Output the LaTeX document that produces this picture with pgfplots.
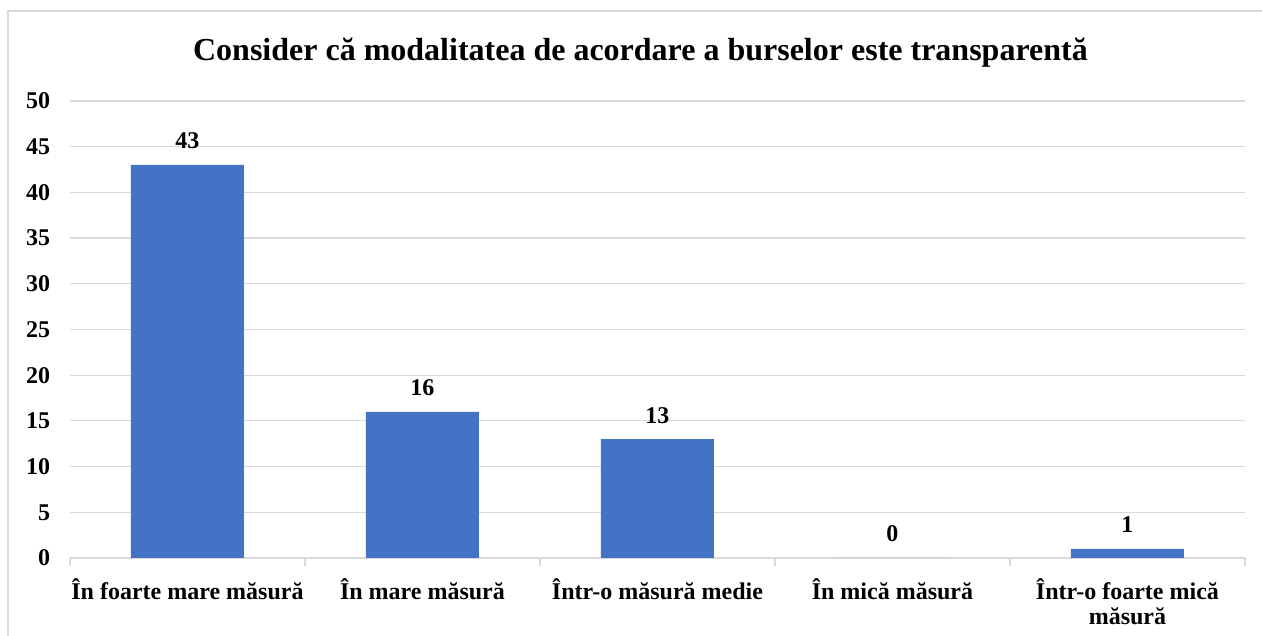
\documentclass[border=0pt]{standalone}
\usepackage{pgfplots}
\pgfplotsset{compat=1.18}
\usepackage{fontspec}
\setmainfont{Liberation Serif}
\definecolor{barblue}{HTML}{4472C4}
\definecolor{gridgray}{HTML}{D9D9D9}
\begin{document}
\begin{tikzpicture}
\path[use as bounding box] (-70pt,-78pt) rectangle (1192pt,558pt);
\draw[gridgray, line width=1.2pt] (-62pt,-90pt) rectangle (1200pt,547pt);
\begin{axis}[
  at={(0,0)}, anchor=south west,
  scale only axis, width=1175pt, height=457pt,
  xmin=-0.5, xmax=4.5, ymin=0, ymax=50,
  ytick={0,5,...,50},
  xtick={0,1,2,3,4},
  xticklabels={În foarte mare măsură, În mare măsură, Într-o măsură medie, În mică măsură, {\begin{tabular}[t]{@{}c@{}}Într-o foarte mică\\măsură\end{tabular}}},
  minor xtick={-0.5,0.5,1.5,2.5,3.5,4.5},
  major x tick style={draw=none},
  minor x tick style={draw=gridgray, line width=1.2pt},
  minor tick length=8pt,
  tick align=outside,
  y tick style={draw=none},
  ymajorgrids, grid style={gridgray, line width=1.2pt},
  axis x line*=bottom,
  axis y line*=left,
  y axis line style={draw=none},
  x axis line style={gridgray, line width=1.2pt, -},
  /pgf/number format/assume math mode=true,
  tick label style={font=\fontsize{24}{25}\selectfont\bfseries},
  xticklabel style={anchor=base, yshift=-37pt},
  yticklabel style={xshift=-12pt},
  ybar, bar width=113pt,
  nodes near coords,
  nodes near coords style={font=\fontsize{24}{25}\selectfont\bfseries, anchor=base, yshift=16pt},
  title={Consider că modalitatea de acordare a burselor este transparentă},
  title style={font=\fontsize{32}{36}\selectfont\bfseries, at={(0.5,1)}, anchor=base, yshift=34pt, xshift=-17pt},
  clip=false,
]
\addplot[fill=barblue, draw=none] coordinates {(0,43) (1,16) (2,13) (3,0) (4,1)};
\end{axis}
\end{tikzpicture}
\end{document}
